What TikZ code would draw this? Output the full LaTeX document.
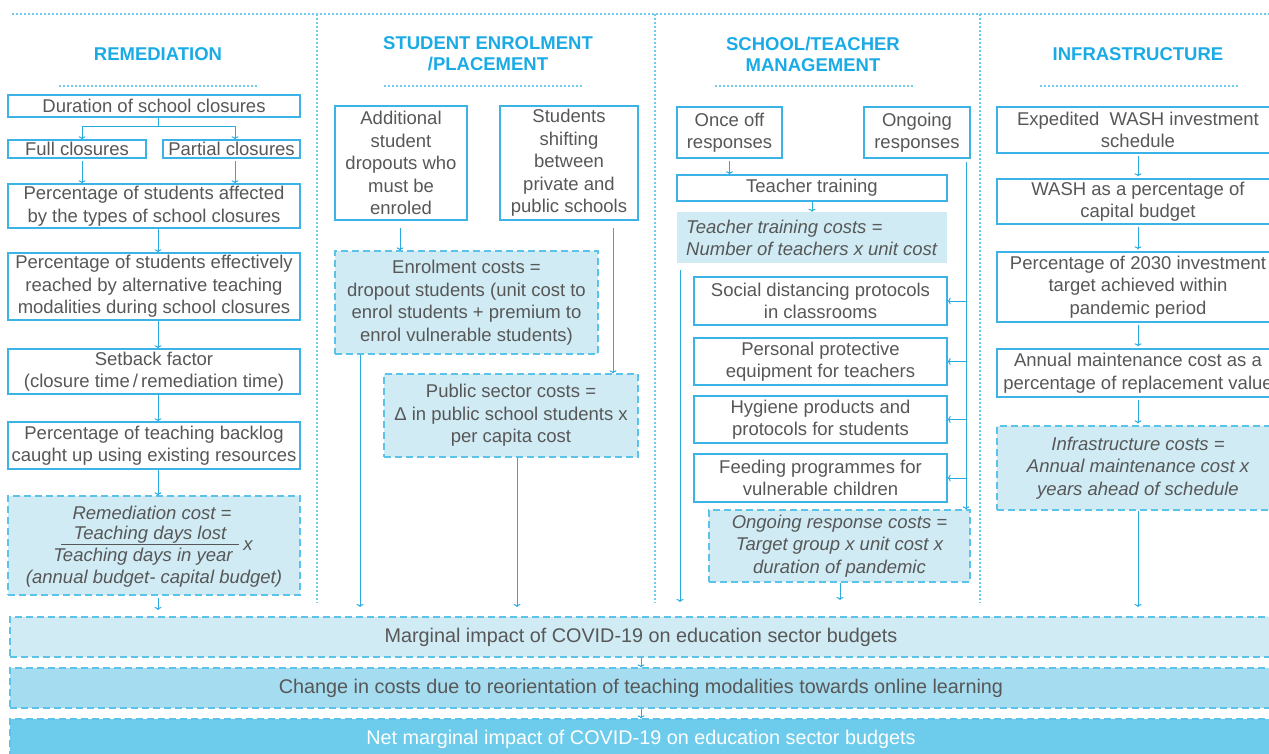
\documentclass[tikz,border=0pt]{standalone}
\usepackage{fontspec}
\setmainfont{Liberation Sans}
\usetikzlibrary{arrows.meta}
\definecolor{linec}{HTML}{29ABE2}
\definecolor{boxc}{HTML}{3BB3E6}
\definecolor{headc}{HTML}{1AABE6}
\definecolor{dotc}{HTML}{6CCDEE}
\definecolor{fillA}{HTML}{D0EBF4}
\definecolor{fillB}{HTML}{A5DCEF}
\definecolor{fillC}{HTML}{6DCBEB}
\definecolor{txt}{HTML}{575757}
\definecolor{dashc}{HTML}{5BC2EA}
\begin{document}
\begin{tikzpicture}[x=1pt,y=-1pt,
  every node/.style={font=\fontsize{18.5}{22.5}\selectfont, text=txt, inner sep=0pt, align=center},
  box/.style={draw=boxc, line width=1.3pt, fill=white},
  costbox/.style={draw=dashc, line width=1.2pt, dash pattern=on 7pt off 4pt, fill=fillA},
  bar/.style={costbox, minimum width=1262, minimum height=40, font=\fontsize{19.8}{23}\selectfont},
  head/.style={font=\fontsize{18.5}{21}\selectfont\bfseries, text=headc},
  ital/.style={font=\fontsize{18.5}{22.5}\selectfont\itshape},
  arr/.style={draw=linec, line width=1pt, -{To[length=3pt,width=7pt]}},
  cl/.style={draw=linec, line width=1pt},
  sep/.style={draw=dotc, line width=2pt, dash pattern=on 2pt off 2pt}
]
\path[use as bounding box] (0,0) rectangle (1269,753);
\clip (0,0) rectangle (1269,753);

% separators
\draw[sep] (12,14) -- (1269,14);
\draw[sep] (317,14) -- (317,603);
\draw[sep] (655,14) -- (655,603);
\draw[sep] (980,14) -- (980,603);
\draw[sep] (59,86) -- (258,86);
\draw[sep] (384,86) -- (583,86);
\draw[sep] (715,86) -- (914,86);
\draw[sep] (1040,86) -- (1238,86);

% headings
\node[head] (h1) at (158,54) {REMEDIATION};
\node[head] (h2) at (488,54) {STUDENT ENROLMENT\\/PLACEMENT};
\node[head] (h3) at (813,54) {SCHOOL/TEACHER\\MANAGEMENT};
\node[head] (h4) at (1138,54) {INFRASTRUCTURE};

% ---------- column 1
\node[box, minimum width=292, minimum height=22] (dur) at (154,106) {Duration of school closures};
\node[box, minimum width=138, minimum height=18] (full) at (77,149) {Full closures};
\node[box, minimum width=137, minimum height=18] (part) at (231.5,149) {Partial closures};
\node[box, minimum width=292, minimum height=44] (aff) at (154,206) {Percentage of students affected\\by the types of school closures};
\node[box, minimum width=292, minimum height=67] (eff) at (154,286.5) {Percentage of students effectively\\reached by alternative teaching\\modalities during school closures};
\node[box, minimum width=292, minimum height=45] (setb) at (154,371.5) {Setback factor\\(closure time\,/\,remediation time)};
\node[box, minimum width=292, minimum height=47] (back) at (154,445.5) {Percentage of teaching backlog\\caught up using existing resources};
\node[costbox, minimum width=292, minimum height=99] (rem) at (154,545.5) {};
\node[ital] (rc1) at (152,513) {Remediation cost =};
\node[ital] (rc2) at (150,535) {Teaching days lost};
\draw[draw=txt, line width=0.8pt] (61,544.5) -- (239,544.5);
\node[ital] (rc3) at (143,557) {Teaching days in year};
\node[ital] (rcx) at (248,546) {x};
\node[ital] (rc4) at (154,579) {(annual budget- capital budget)};

\coordinate (br) at (158,126);
\coordinate (brL) at (82,126);
\coordinate (brR) at (235,126);
\coordinate (e1) at (158,610);
\draw[cl] (dur.south -| br) -- (br);
\draw[cl] (brL) -- (brR);
\draw[arr] (brL) -- (brL |- full.north);
\draw[arr] (brR) -- (brR |- part.north);
\draw[arr] ([yshift=-2pt]full.south -| brL) -- (brL |- aff.north);
\draw[arr] ([yshift=-2pt]part.south -| brR) -- (brR |- aff.north);
\draw[arr] (aff.south -| br) -- (eff.north -| br);
\draw[arr] (eff.south -| br) -- (setb.north -| br);
\draw[arr] (setb.south -| br) -- (back.north -| br);
\draw[arr] (back.south -| br) -- (rem.north -| br);
\draw[arr] ([yshift=-2pt]rem.south -| e1) -- (e1);

% ---------- column 2
\node[box, minimum width=132, minimum height=114] (add) at (401,163) {Additional\\student\\dropouts who\\must be\\enroled};
\node[box, minimum width=138, minimum height=114] (shift) at (569,163) {Students\\shifting\\between\\private and\\public schools};
\node[costbox, minimum width=263, minimum height=103] (enr) at (466.5,302.5) {Enrolment costs =\\dropout students (unit cost to\\enrol students + premium to\\enrol vulnerable students)};
\node[costbox, minimum width=254, minimum height=83] (pub) at (511,415.5) {Public sector costs =\\Δ in public school students x\\per capita cost};
\coordinate (s1) at (400,228);
\coordinate (s2) at (613,228);
\coordinate (e2) at (360,607);
\coordinate (e3) at (517,607);
\draw[arr] (s1) -- (s1 |- enr.north);
\draw[arr] (s2) -- (s2 |- pub.north);
\draw[arr] (enr.south -| e2) -- (e2);
\draw[arr] (pub.south -| e3) -- (e3);

% ---------- column 3
\node[box, minimum width=105, minimum height=51] (once) at (729.5,132.5) {Once off\\responses};
\node[box, minimum width=106, minimum height=51] (ongo) at (917,132.5) {Ongoing\\responses};
\node[box, minimum width=270, minimum height=26] (tt) at (812,188) {Teacher training};
\node[fill=fillA, minimum width=270, minimum height=51] (ttc) at (812,237.5) {};
\node[ital, anchor=west, align=left] (ttct) at (686,238) {Teacher training costs =\\Number of teachers x unit cost};
\node[box, minimum width=253, minimum height=48] (soc) at (820.5,301) {Social distancing protocols\\in classrooms};
\node[box, minimum width=253, minimum height=47] (ppe) at (820.5,361.5) {Personal protective\\equipment for teachers};
\node[box, minimum width=253, minimum height=47] (hyg) at (820.5,419.5) {Hygiene products and\\protocols for students};
\node[box, minimum width=253, minimum height=48] (feed) at (820.5,478) {Feeding programmes for\\vulnerable children};
\node[costbox, ital, minimum width=261, minimum height=72] (ongc) at (839.5,546) {Ongoing response costs =\\Target group x unit cost x\\duration of pandemic};
\coordinate (oT) at (966,162);
\coordinate (lt) at (680,270);
\coordinate (e4) at (680,602);
\coordinate (e5) at (840,600);
\draw[arr] ([yshift=-2pt]once.south) -- (tt.north -| once.south);
\draw[arr] (tt.south) -- (ttc.north);
\draw[arr] (lt) -- (e4);
\draw[arr] (oT) -- (oT |- ongc.north);
\draw[arr] (oT |- soc.east) -- (soc.east);
\draw[arr] (oT |- ppe.east) -- (ppe.east);
\draw[arr] (oT |- hyg.east) -- (hyg.east);
\draw[arr] (oT |- feed.east) -- (feed.east);
\draw[arr] (ongc.south -| e5) -- (e5);

% ---------- column 4
\node[box, minimum width=282, minimum height=46] (wash1) at (1138,130) {Expedited\hspace{5pt} WASH investment\\schedule};
\node[box, minimum width=282, minimum height=45] (wash2) at (1138,201.5) {WASH as a percentage of\\capital budget};
\node[box, minimum width=282, minimum height=70] (pct) at (1138,287) {Percentage of 2030 investment\\target achieved within\\pandemic period};
\node[box, minimum width=282, minimum height=48] (maint) at (1138,373) {Annual maintenance cost as a\\percentage of replacement value};
\node[costbox, ital, minimum width=282, minimum height=84] (infra) at (1138,468) {Infrastructure costs =\\Annual maintenance cost x\\years ahead of schedule};
\coordinate (e6) at (1138,607);
\draw[arr, shorten <=2pt, shorten >=2pt] (wash1.south) -- (wash2.north);
\draw[arr, shorten <=2pt, shorten >=2pt] (wash2.south) -- (pct.north);
\draw[arr, shorten <=2pt, shorten >=2pt] (pct.south) -- (maint.north);
\draw[arr, shorten <=2pt, shorten >=2pt] (maint.south) -- (infra.north);
\draw[arr] (infra.south) -- (e6);

% ---------- bottom bars
\node[bar] (b1) at (641,637) {Marginal impact of COVID-19 on education sector budgets};
\node[bar, fill=fillB] (b2) at (641,688) {Change in costs due to reorientation of teaching modalities towards online learning};
\node[bar, fill=fillC, text=white] (b3) at (641,739) {Net marginal impact of COVID-19 on education sector budgets};
\draw[arr] (b1.south) -- (b2.north);
\draw[arr] (b2.south) -- (b3.north);
\end{tikzpicture}
\end{document}
